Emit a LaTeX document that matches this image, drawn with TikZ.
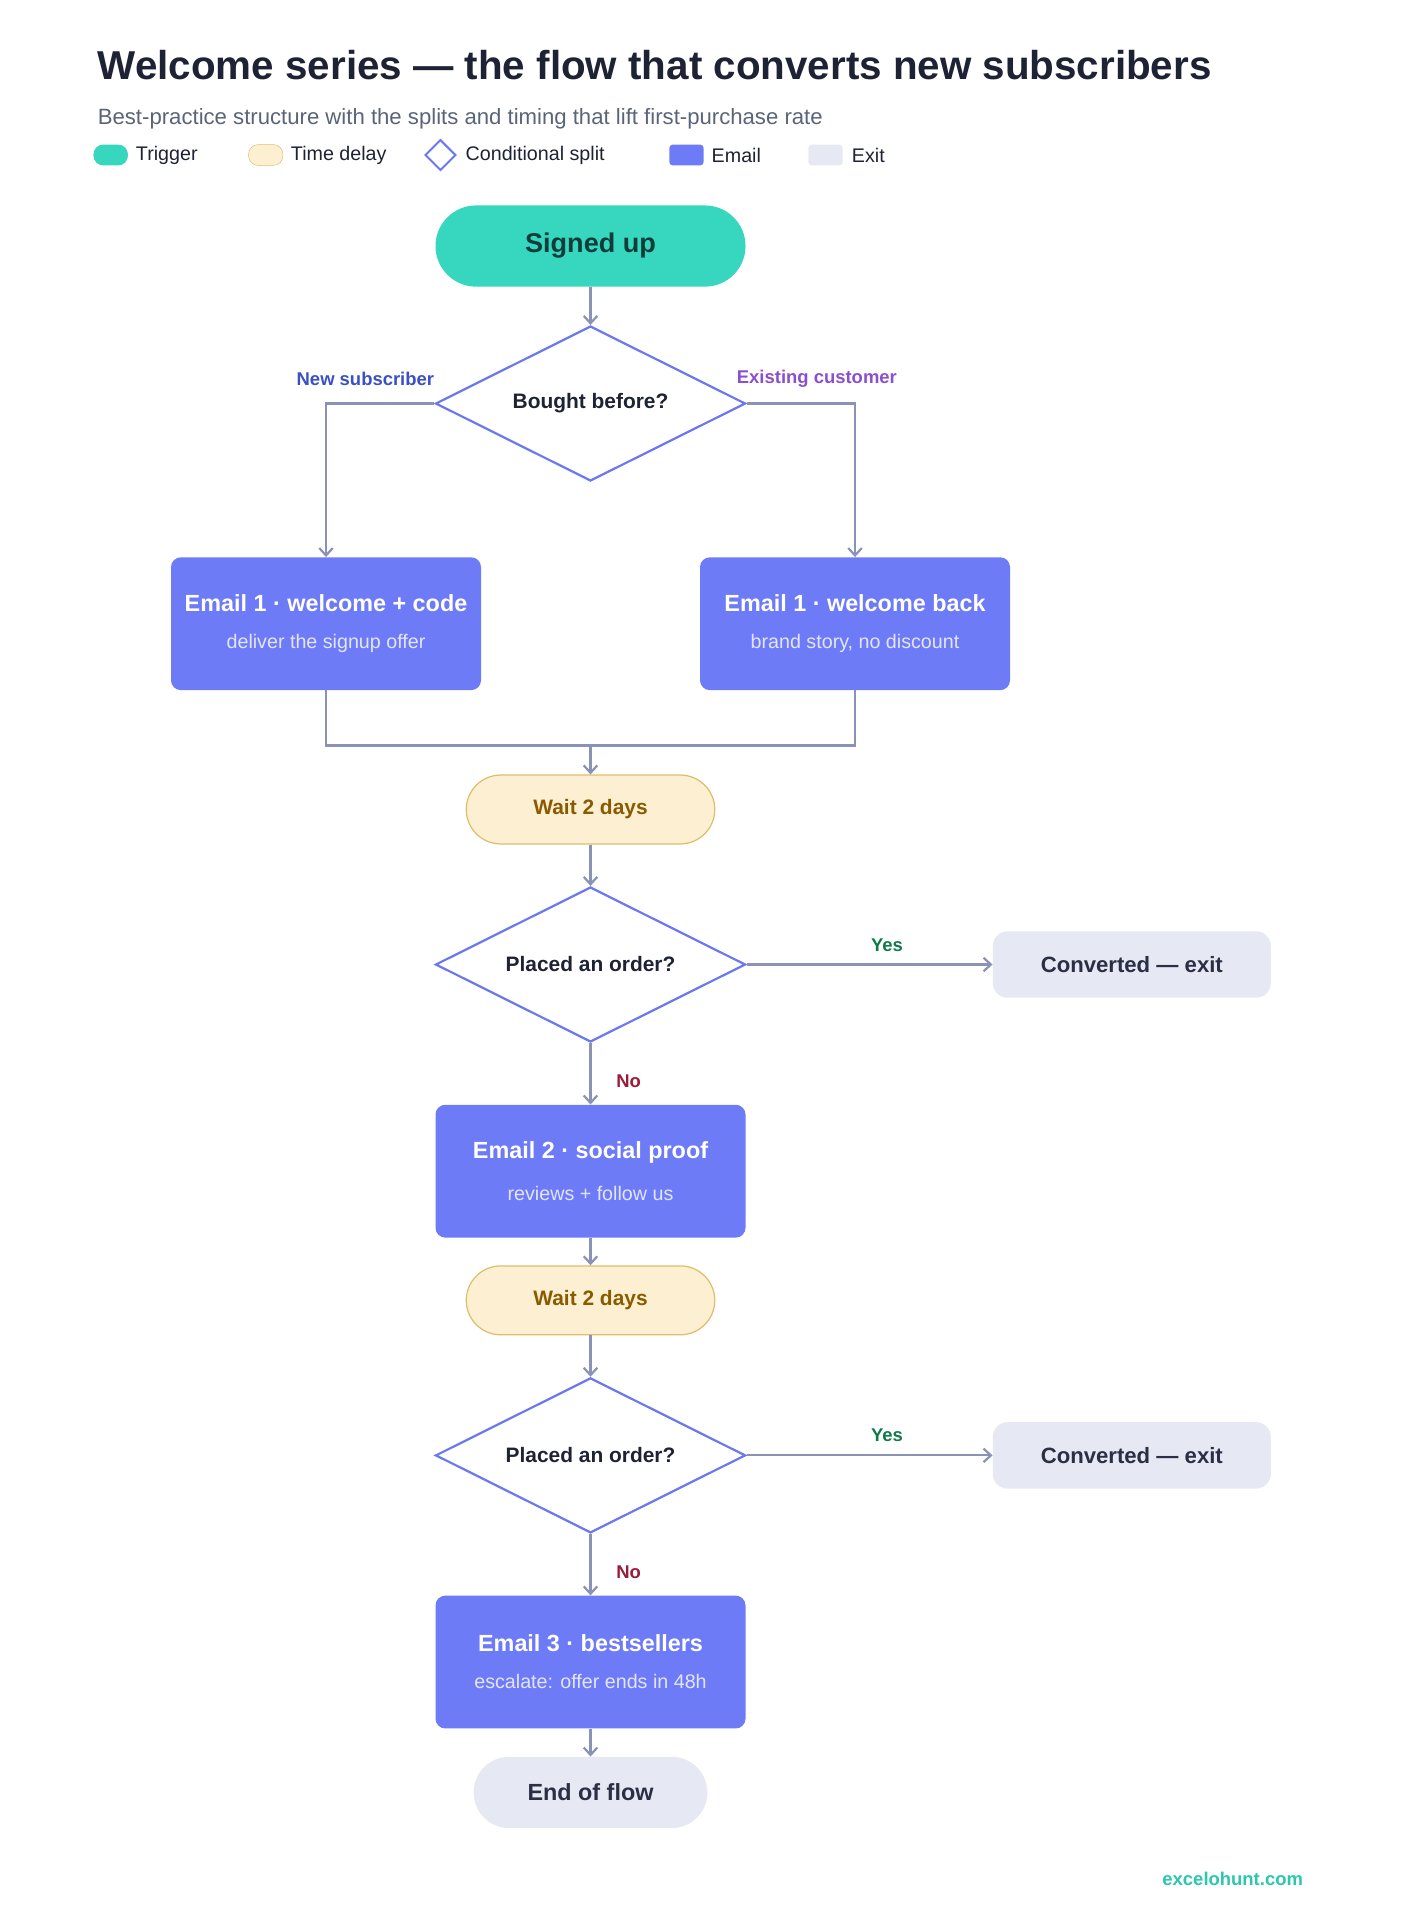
\documentclass[tikz,border=0pt]{standalone}
\usepackage{fontspec}
\setmainfont{Liberation Sans}
\usetikzlibrary{arrows.meta,shapes.geometric}
\definecolor{navy}{HTML}{1E2235}
\definecolor{sub}{HTML}{5A6478}
\definecolor{teal}{HTML}{36D6BF}
\definecolor{tealtxt}{HTML}{0F3D3A}
\definecolor{emailc}{HTML}{6E7BF6}
\definecolor{esub}{HTML}{E2E5FF}
\definecolor{dstroke}{HTML}{6B78EE}
\definecolor{waitf}{HTML}{FDF0D2}
\definecolor{waits}{HTML}{E0BD6A}
\definecolor{waitt}{HTML}{8A5A00}
\definecolor{exitf}{HTML}{E6E9F3}
\definecolor{exitt}{HTML}{2A2F45}
\definecolor{conn}{HTML}{8A93B5}
\definecolor{newc}{HTML}{3B4FC6}
\definecolor{exc}{HTML}{8A4FCF}
\definecolor{yesc}{HTML}{0E7A4A}
\definecolor{noc}{HTML}{9B1B3A}
\definecolor{brand}{HTML}{2BC7AE}
\tikzset{
 x=1pt,y=-1pt,
 trig/.style={rounded corners=33pt,fill=teal,minimum width=252pt,minimum height=66pt,font=\fontsize{22}{26}\selectfont\bfseries,text=tealtxt},
 dia/.style={diamond,aspect=2,draw=dstroke,line width=1.8pt,fill=white,minimum width=252pt,minimum height=126pt,inner sep=0pt,font=\fontsize{17}{20}\selectfont\bfseries,text=navy},
 email/.style={rounded corners=8pt,fill=emailc,minimum width=252pt,minimum height=108pt,text=white,align=center},
 wait/.style={rounded corners=28pt,fill=waitf,draw=waits,line width=1pt,minimum width=202pt,minimum height=56pt,font=\fontsize{17}{20}\selectfont\bfseries,text=waitt},
 exitn/.style={rounded corners=12pt,fill=exitf,minimum width=226pt,minimum height=54pt,font=\fontsize{18}{21}\selectfont\bfseries,text=exitt},
 endn/.style={rounded corners=29pt,fill=exitf,minimum width=190pt,minimum height=58pt,font=\fontsize{19}{22}\selectfont\bfseries,text=exitt},
 con/.style={draw=conn,line width=1.8pt,-{Straight Barb[length=6pt,width=11pt]}},
 lin/.style={draw=conn,line width=1.8pt},
 lbl/.style={font=\fontsize{15}{18}\selectfont\bfseries},
 leg/.style={font=\fontsize{16}{19}\selectfont,text=navy,anchor=west},
}
\newcommand{\etxt}[2]{{\fontsize{19}{22}\selectfont\bfseries #1}\\[18pt]{\fontsize{16}{19}\selectfont\color{esub} #2}}
\begin{document}
\begin{tikzpicture}
\useasboundingbox (0,0) rectangle (1138,1568);
\node[anchor=base west,font=\fontsize{32.8}{38}\selectfont\bfseries,text=navy] (title) at (76,65) {Welcome series — the flow that converts new subscribers};
\node[anchor=base west,font=\fontsize{18}{22}\selectfont,text=sub] (subt) at (76,101) {Best-practice structure with the splits and timing that lift first-purchase rate};
% legend
\node[fill=teal,rounded corners=8pt,minimum width=28pt,minimum height=17pt,inner sep=0] (l1) at (90,126) {};
\node[leg] (t1) at (107,126) {Trigger};
\node[fill=waitf,draw=waits,rounded corners=8pt,minimum width=28pt,minimum height=17pt,inner sep=0] (l2) at (216,126) {};
\node[leg] (t2) at (233,126) {Time delay};
\node[diamond,draw=dstroke,line width=1.6pt,minimum width=25pt,minimum height=25pt,inner sep=0] (l3) at (358,126) {};
\node[leg] (t3) at (375,126) {Conditional split};
\node[fill=emailc,rounded corners=3pt,minimum width=28pt,minimum height=17pt,inner sep=0] (l4) at (558,126) {};
\node[leg] (t4) at (575,126) {Email};
\node[fill=exitf,rounded corners=3pt,minimum width=28pt,minimum height=17pt,inner sep=0] (l5) at (671,126) {};
\node[leg] (t5) at (689,126) {Exit};
% nodes
\node[trig] (s) at (480,200) {Signed up};
\node[dia] (d1) at (480,328) {Bought before?};
\node[email] (e1l) at (265,507) {\etxt{Email 1 · welcome + code}{deliver the signup offer}};
\node[email] (e1r) at (695,507) {\etxt{Email 1 · welcome back}{brand story, no discount}};
\node[wait] (w1) at (480,658) {Wait 2 days};
\node[dia] (d2) at (480,784) {Placed an order?};
\node[exitn] (x1) at (920,784) {Converted — exit};
\node[email] (e2) at (480,952) {\etxt{Email 2 · social proof}{reviews + follow us}};
\node[wait] (w2) at (480,1057) {Wait 2 days};
\node[dia] (d3) at (480,1183) {Placed an order?};
\node[exitn] (x2) at (920,1183) {Converted — exit};
\node[email] (e3) at (480,1351) {\etxt{Email 3 · bestsellers}{escalate: offer ends in 48h}};
\node[endn] (en) at (480,1457) {End of flow};
\coordinate (m) at (480,606);
% connectors
\draw[con] (s) -- (d1);
\draw[con] (d1.west) -| (e1l.north);
\draw[con] (d1.east) -| (e1r.north);
\draw[lin] (e1l.south) |- (m);
\draw[lin] (e1r.south) |- (m);
\draw[con] (m) -- (w1);
\draw[con] (w1) -- (d2);
\draw[con] (d2.east) -- (x1.west);
\draw[con] (d2.south) -- (e2.north);
\draw[con] (e2) -- (w2);
\draw[con] (w2) -- (d3);
\draw[con] (d3.east) -- (x2.west);
\draw[con] (d3.south) -- (e3.north);
\draw[con] (e3) -- (en);
% labels
\node[lbl,text=newc] (ln) at (297,308) {New subscriber};
\node[lbl,text=exc] (le) at (664,308) {Existing customer};
\node[lbl,text=yesc] (y1) at (721,768) {Yes};
\node[lbl,text=noc] (n1) at (511,879) {No};
\node[lbl,text=yesc] (y2) at (721,1167) {Yes};
\node[lbl,text=noc] (n2) at (511,1278) {No};
\node[lbl,text=brand] (br) at (1002,1527) {excelohunt.com};
\end{tikzpicture}
\end{document}
